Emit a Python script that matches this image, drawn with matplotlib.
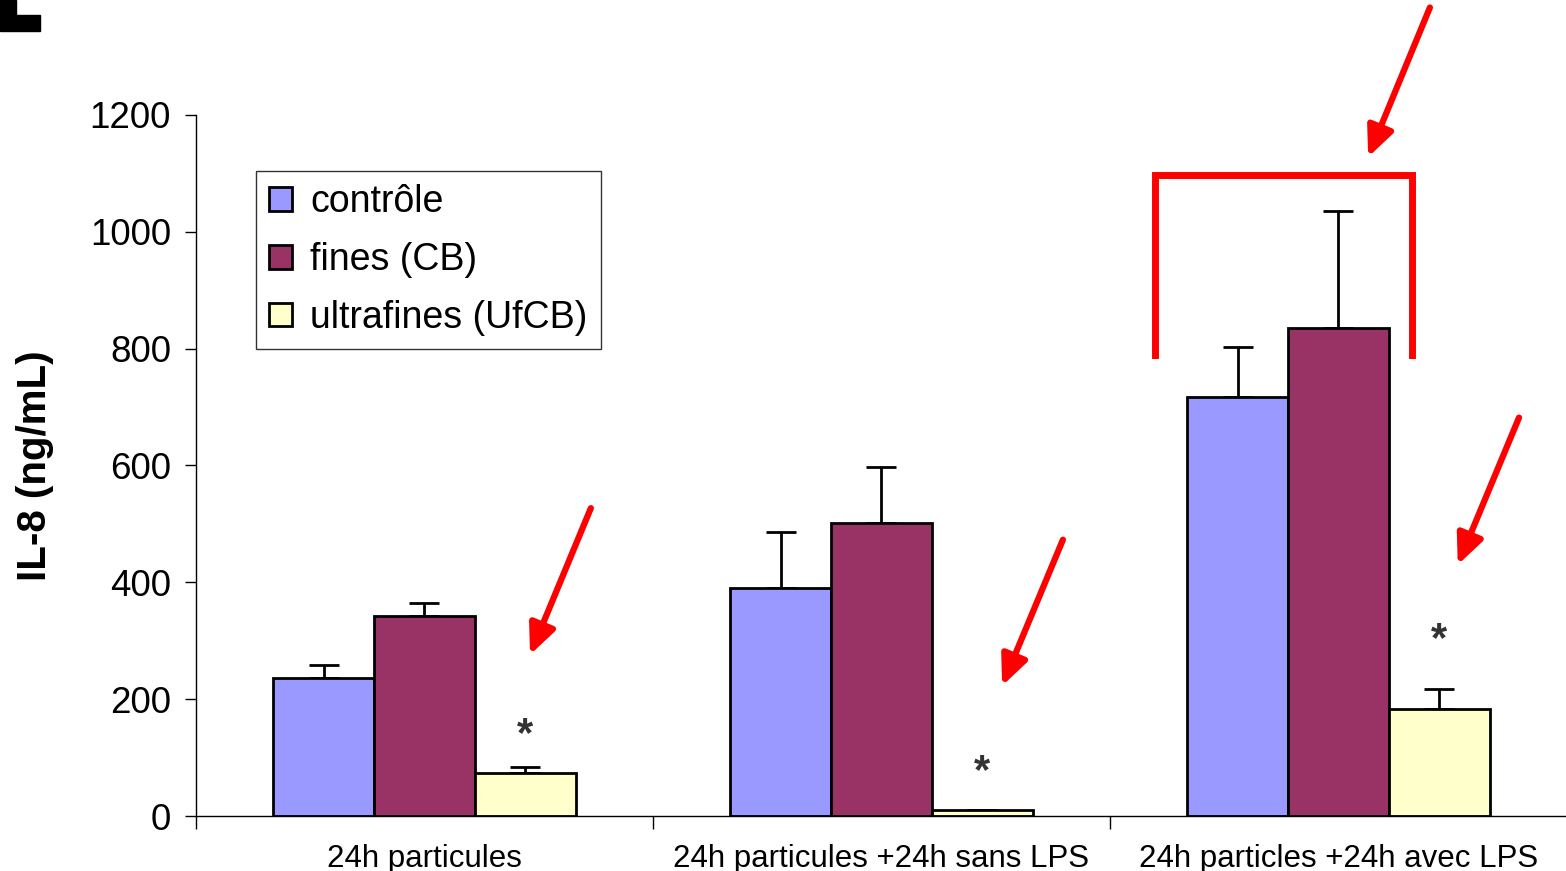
import matplotlib
matplotlib.use("Agg")
import matplotlib.pyplot as plt
from matplotlib.patches import Polygon
import numpy as np

plt.rcParams['font.family'] = ['Liberation Sans', 'DejaVu Sans']

# data
groups = ["24h particules", "24h particules +24h sans LPS", "24h particles +24h avec LPS"]
series = ["contrôle", "fines (CB)", "ultrafines (UfCB)"]
controle = [236, 390, 717]
fines = [342, 502, 836]
ultrafines = [74, 10, 183]
err_controle = [22, 96, 86]
err_fines = [23, 96, 200]
err_ultrafines = [10, 0, 34]
colors = ["#9999FF", "#993366", "#FFFFCC"]

# annotations: asterisks (group index, y), arrows (tail, head) and bracket
stars = [(0, 138), (1, 75), (2, 301)]
arrows = [((0.364, 527), (0.231, 276)),
          ((1.397, 473), (1.264, 223)),
          ((2.395, 682), (2.261, 430)),
          ((2.200, 1384), (2.065, 1128))]
bracket_x = [1.598, 1.598, 2.161, 2.161]
bracket_y = [789, 1098, 1098, 789]

fig = plt.figure(figsize=(15.66, 8.71), dpi=100)
ax = fig.add_axes([196 / 1566, 55 / 871, 1371 / 1566, 701 / 871])

x = np.arange(len(groups))
w = 0.221
vals = [controle, fines, ultrafines]
errs = [err_controle, err_fines, err_ultrafines]
for i in range(3):
    pos = x + (i - 1) * w
    ax.bar(pos, vals[i], width=w, color=colors[i], edgecolor="black",
           linewidth=2, label=series[i], zorder=2)
    e = np.array(errs[i])
    ax.errorbar(pos, vals[i], yerr=[np.zeros_like(e), e], fmt="none",
                ecolor="black", elinewidth=2, capsize=11, capthick=2, zorder=1)

for g, yv in stars:
    ax.text(g + w, yv, "*", ha="center", va="center", fontsize=30,
            fontweight="bold", color="#333333")

for tail, head in arrows:
    ax.annotate("", xy=head, xytext=tail, annotation_clip=False,
                arrowprops=dict(arrowstyle="-|>,head_length=0.6,head_width=0.27",
                                color="red", lw=4.5, mutation_scale=30,
                                shrinkA=0, shrinkB=0))
ax.plot(bracket_x, bracket_y, color="red", lw=5, clip_on=False,
        solid_joinstyle="miter")

ax.set_xlim(-0.5, 2.5)
ax.set_ylim(0, 1200)
ax.set_yticks(range(0, 1201, 200))
ax.tick_params(axis="y", labelsize=26.5, length=8, width=1, pad=10)

ax.set_xticks([-0.5, 0.5, 1.5, 2.5])
ax.set_xticklabels([])
ax.set_xticks(x, minor=True)
ax.set_xticklabels(groups, minor=True, fontsize=22.5)
ax.tick_params(axis="x", which="major", length=9, width=1, direction="out")
ax.tick_params(axis="x", which="minor", length=0, pad=20)

for s in ["top", "right"]:
    ax.spines[s].set_visible(False)
ax.spines["left"].set_linewidth(1)
ax.spines["bottom"].set_linewidth(1)

ax.set_ylabel("IL-8 (ng/mL)", fontsize=29, fontweight="bold", labelpad=26)

leg = ax.legend(loc="upper left", bbox_to_anchor=(0.0438, 0.920), fontsize=27,
                frameon=True, fancybox=False, edgecolor="black",
                handlelength=0.6, handleheight=0.6, handletextpad=0.5,
                borderpad=0.35, borderaxespad=0, labelspacing=0.58)
leg.get_frame().set_linewidth(1)

# cropped letter at the top-left corner
pts = [(0, 0), (16, 0), (16, 15), (40, 15), (40, 31), (0, 31)]
fig.patches.append(Polygon([(px / 1566, 1 - py / 871) for px, py in pts],
                           closed=True, color="black", transform=fig.transFigure))

fig.savefig("out.png", dpi=100)
